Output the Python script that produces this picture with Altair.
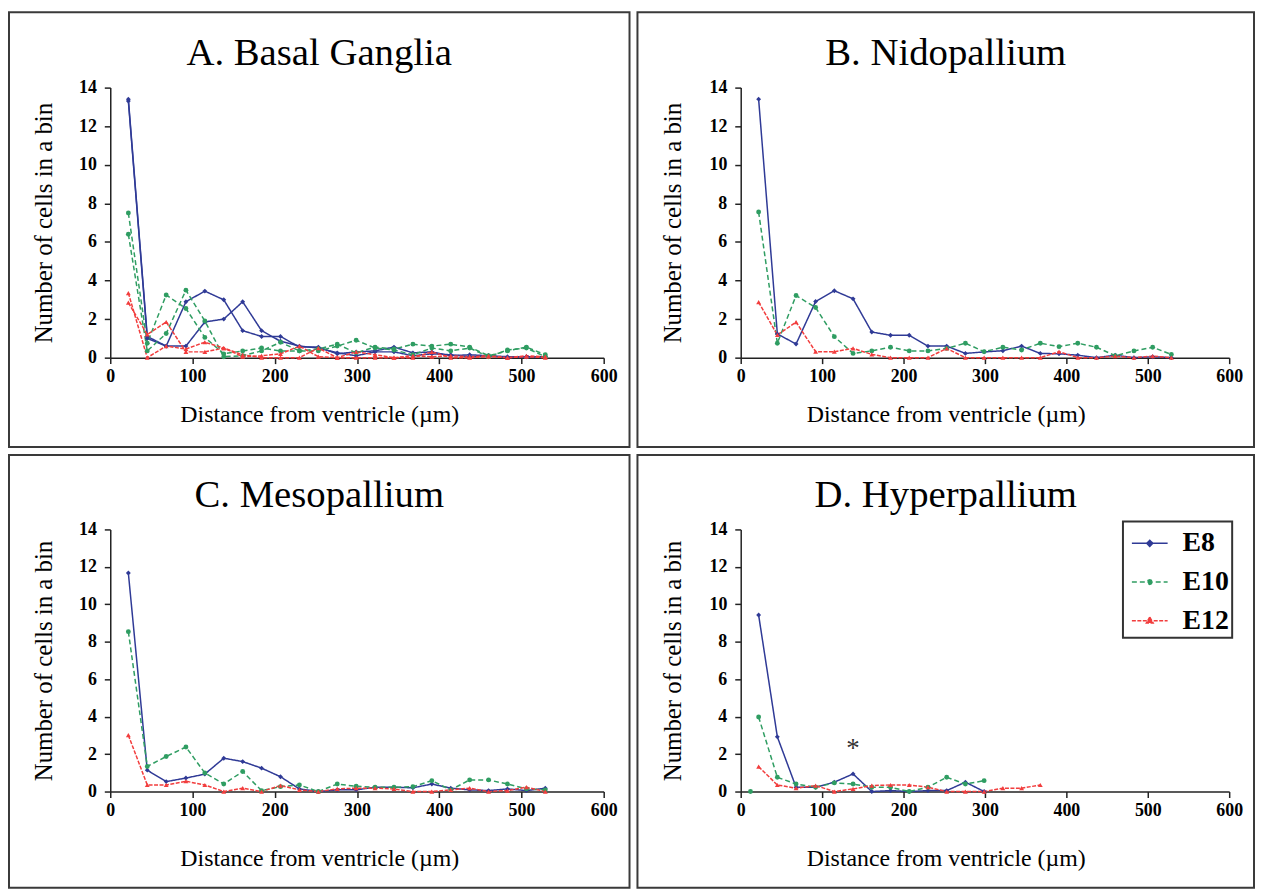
import altair as alt
import pandas as pd

SERIF = "Liberation Serif"
STAGES = ["E8", "E10", "E12"]
COLORS = ["#2f3a96", "#2f9d62", "#f23d3d"]
DASHES = [[1, 0], [5, 3], [4, 1.5]]
SHAPES = ["diamond", "circle", "triangle-up"]
LEGEND_PATHS = [
    "M-1,0H1M0,-0.17L0.17,0L0,0.17L-0.17,0Z",
    "M-1,0H1M0.13,0L0.09,0.09L0,0.13L-0.09,0.09L-0.13,0L-0.09,-0.09L0,-0.13L0.09,-0.09Z",
    "M-1,0H1M0,-0.2L0.19,0.13L-0.19,0.13Z",
]

X_TITLE = "Distance from ventricle (\u00b5m)"
Y_TITLE = "Number of cells in a bin"
X_TICKS = [0, 100, 200, 300, 400, 500, 600]
Y_TICKS = [0, 2, 4, 6, 8, 10, 12, 14]
TITLES = ["A. Basal Ganglia", "B. Nidopallium", "C. Mesopallium", "D. Hyperpallium"]

BINS = [22, 45, 68, 92, 115, 138, 161, 184, 207, 230, 253, 276, 299, 322, 345,
        368, 391, 414, 437, 460, 483, 506, 529]

A_E8_1 = [13.3, 1.0, 0.6, 2.9, 3.45, 3.0, 1.4, 1.1, 1.1, 0.55, 0.55, 0.2, 0.3, 0.35, 0.55, 0.25, 0.3, 0.1, 0.15, 0.1, 0.05, 0.05, 0.05]
A_E8_2 = [13.4, 1.1, 0.6, 0.6, 1.85, 2.0, 2.9, 1.4, 0.85, 0.6, 0.5, 0.25, 0.1, 0.3, 0.3, 0.1, 0.2, 0.15, 0.05, 0.1, 0.0, 0.05, 0.05]
A_E10_1 = [7.5, 0.75, 3.25, 2.55, 1.05, 0.2, 0.35, 0.5, 0.35, 0.35, 0.45, 0.7, 0.25, 0.55, 0.45, 0.7, 0.6, 0.7, 0.55, 0.1, 0.35, 0.55, 0.15]
A_E10_2 = [6.4, 0.35, 1.25, 3.5, 1.9, 0.05, 0.1, 0.35, 0.8, 0.35, 0.35, 0.6, 0.9, 0.5, 0.4, 0.15, 0.5, 0.35, 0.5, 0.05, 0.4, 0.5, 0.05]
A_E12_1 = [2.85, 1.2, 1.85, 0.3, 0.3, 0.5, 0.15, 0.0, 0.0, 0.0, 0.5, 0.0, 0.0, 0.0, 0.0, 0.0, 0.3, 0.0, 0.0, 0.05, 0.0, 0.05, 0.0]
A_E12_2 = [3.35, 0.0, 0.6, 0.45, 0.8, 0.5, 0.05, 0.1, 0.2, 0.6, 0.05, 0.0, 0.3, 0.15, 0.0, 0.1, 0.05, 0.1, 0.05, 0.1, 0.0, 0.1, 0.05]

B_E8 = [13.4, 1.23, 0.71, 2.91, 3.47, 3.05, 1.33, 1.16, 1.16, 0.6, 0.6, 0.22, 0.3, 0.36, 0.6, 0.22, 0.2, 0.13, 0.0, 0.13, 0.0, 0.05, 0.0]
B_E10 = [7.55, 0.75, 3.22, 2.6, 1.09, 0.22, 0.35, 0.54, 0.35, 0.35, 0.48, 0.75, 0.31, 0.54, 0.4, 0.75, 0.57, 0.75, 0.54, 0.1, 0.35, 0.54, 0.17]
B_E12 = [2.88, 1.18, 1.84, 0.31, 0.31, 0.48, 0.17, 0.0, 0.0, 0.0, 0.48, 0.0, 0.0, 0.0, 0.0, 0.0, 0.31, 0.0, 0.0, 0.08, 0.0, 0.08, 0.0]

C_E8 = [11.67, 1.14, 0.53, 0.72, 0.93, 1.78, 1.6, 1.25, 0.79, 0.14, 0.0, 0.09, 0.09, 0.23, 0.23, 0.2, 0.4, 0.18, 0.09, 0.05, 0.14, 0.05, 0.18]
C_E10 = [8.54, 1.34, 1.87, 2.38, 0.99, 0.4, 1.07, 0.05, 0.26, 0.35, 0.0, 0.4, 0.28, 0.23, 0.23, 0.26, 0.58, 0.09, 0.62, 0.62, 0.4, 0.14, 0.09]
C_E12 = [3.01, 0.35, 0.35, 0.55, 0.35, 0.0, 0.18, 0.0, 0.32, 0.09, 0.0, 0.14, 0.18, 0.18, 0.14, 0.0, 0.0, 0.09, 0.18, 0.0, 0.05, 0.23, 0.0]

D_E8 = [9.43, 2.92, 0.23, 0.23, 0.5, 0.94, 0.0, 0.05, 0.0, 0.05, 0.05, 0.5, 0.0]
D_E10 = [3.98, 0.76, 0.4, 0.23, 0.46, 0.4, 0.23, 0.23, 0.0, 0.23, 0.76, 0.4, 0.58]
D_E12 = [1.33, 0.35, 0.18, 0.32, 0.0, 0.14, 0.32, 0.35, 0.35, 0.23, 0.0, 0.0, 0.0, 0.18, 0.18, 0.35]
D_E10_EXTRA_X = [12]
D_E10_EXTRA_Y = [0.0]

NOTE_X = [138]
NOTE_Y = [2.25]
NOTE_T = ["*"]

# per-panel geometry: plot width, plot height, box left/right/top/bottom offsets
GEOM = {
    "A": dict(W=497, H=272, L=-102, R=26, T=-76, B=90, XT=57),
    "B": dict(W=492, H=272, L=-104, R=25, T=-76, B=90, XT=57),
    "C": dict(W=497, H=264, L=-102, R=26, T=-75, B=97, XT=67),
    "D": dict(W=492, H=264, L=-104, R=25, T=-75, B=97, XT=67),
}


def series_rows(series):
    rows = []
    for stage, grp, xs, ys in series:
        for xv, yv in zip(xs, ys):
            rows.append({"stage": stage, "grp": stage + grp, "x": xv, "y": yv})
    return pd.DataFrame(rows)


def panel(key, title, series, legend=False, note=False):
    g = GEOM[key]
    W, H = g["W"], g["H"]
    box_l, box_r = g["L"], W + g["R"]
    cx = (box_l + box_r) / 2
    df = series_rows(series)
    x = alt.X("x:Q", scale=alt.Scale(domain=[0, 600], nice=False),
              axis=alt.Axis(values=X_TICKS, title=X_TITLE, titleX=cx, titleY=g["XT"],
                            titleBaseline="middle", titleAlign="center", labelFlush=False,
                            labelPadding=4, labelFont=SERIF, titleFont=SERIF,
                            labelFontWeight="bold", labelFontSize=18, titleFontSize=24))
    y = alt.Y("y:Q", scale=alt.Scale(domain=[0, 14], nice=False),
              axis=alt.Axis(values=Y_TICKS, title=Y_TITLE, titleX=box_l + 35, titleY=H / 2,
                            titleAngle=-90, titleBaseline="middle", titleAlign="center",
                            labelPadding=8, labelFont=SERIF, titleFont=SERIF,
                            labelFontWeight="bold", labelFontSize=18, titleFontSize=25))
    col = alt.Color("stage:N", scale=alt.Scale(domain=STAGES, range=COLORS), legend=None)
    dash = alt.StrokeDash("stage:N", scale=alt.Scale(domain=STAGES, range=DASHES), legend=None)
    shp = alt.Shape("stage:N", scale=alt.Scale(domain=STAGES, range=SHAPES), legend=None)

    lines = alt.Chart(df).mark_line(strokeWidth=1.5).encode(
        x=x, y=y, color=col, strokeDash=dash, detail="grp:N")
    pts = alt.Chart(df).mark_point(filled=True, size=24, opacity=1).encode(
        x=x, y=y, color=col, shape=shp, detail="grp:N")

    box = alt.Chart(pd.DataFrame({"k": [0]})).mark_rect(
        fill="transparent", stroke="#3a3a3a", strokeWidth=2).encode(
        x=alt.value(box_l), x2=alt.value(box_r), y=alt.value(g["T"]), y2=alt.value(H + g["B"]))
    ttl = alt.Chart(pd.DataFrame({"t": [title]})).mark_text(
        font=SERIF, fontSize=39, align="center", baseline="alphabetic", color="black").encode(
        x=alt.value(cx), y=alt.value(-23), text="t:N")

    layers = [box, ttl, lines, pts]
    if note:
        ndf = pd.DataFrame({"x": NOTE_X, "y": NOTE_Y, "t": NOTE_T})
        layers.append(alt.Chart(ndf).mark_text(font=SERIF, fontSize=27, color="#333",
                                               baseline="middle").encode(x=x, y=y, text="t:N"))
    if legend:
        leg = alt.Legend(title=None, orient="none", legendX=385, legendY=-8, strokeColor="#333",
                         fillColor="white", padding=3, rowPadding=6, symbolSize=1296,
                         symbolStrokeWidth=1.5, symbolOffset=5, labelOffset=14, labelFont=SERIF,
                         labelFontSize=28, labelFontWeight="bold", labelColor="black")
        gdf = pd.DataFrame({"stage": pd.Series([], dtype=str), "x": pd.Series([], dtype=float),
                            "y": pd.Series([], dtype=float)})
        ghost = alt.Chart(gdf).mark_point(filled=True, opacity=1, strokeWidth=1.5).encode(
            x=x, y=y,
            color=alt.Color("stage:N", scale=alt.Scale(domain=STAGES, range=COLORS), legend=leg),
            stroke=alt.Stroke("stage:N", scale=alt.Scale(domain=STAGES, range=COLORS), legend=leg),
            shape=alt.Shape("stage:N", scale=alt.Scale(domain=STAGES, range=LEGEND_PATHS), legend=leg),
            strokeDash=alt.StrokeDash("stage:N", scale=alt.Scale(domain=STAGES, range=DASHES), legend=leg))
        layers.append(ghost)
    ch = alt.layer(*layers).properties(width=W, height=H)
    if legend:
        ch = ch.resolve_scale(color="independent", stroke="independent",
                              shape="independent", strokeDash="independent")
    return ch


pA = panel("A", TITLES[0], [
    ("E8", "1", BINS, A_E8_1), ("E8", "2", BINS, A_E8_2),
    ("E10", "1", BINS, A_E10_1), ("E10", "2", BINS, A_E10_2),
    ("E12", "1", BINS, A_E12_1), ("E12", "2", BINS, A_E12_2)])
pB = panel("B", TITLES[1], [
    ("E8", "1", BINS, B_E8), ("E10", "1", BINS, B_E10), ("E12", "1", BINS, B_E12)])
pC = panel("C", TITLES[2], [
    ("E8", "1", BINS, C_E8), ("E10", "1", BINS, C_E10), ("E12", "1", BINS, C_E12)])
pD = panel("D", TITLES[3], [
    ("E8", "1", BINS[:len(D_E8)], D_E8), ("E10", "1", BINS[:len(D_E10)], D_E10),
    ("E10", "2", D_E10_EXTRA_X, D_E10_EXTRA_Y),
    ("E12", "1", BINS[:len(D_E12)], D_E12)], legend=True, note=True)

top = alt.hconcat(pA, pB, spacing=6)
bottom = alt.hconcat(pC, pD, spacing=6)
chart = alt.vconcat(top, bottom, spacing=6).properties(padding=0).configure_view(
    stroke=None).configure_axis(
    domainColor="#222", domainWidth=1.5, tickColor="#222", tickWidth=1.5, tickSize=6,
    labelColor="black", titleFontWeight="normal", titleColor="black",
    grid=False).configure_legend(strokeWidth=2)

chart.save("out.html", embed_options={"renderer": "svg", "actions": False})
